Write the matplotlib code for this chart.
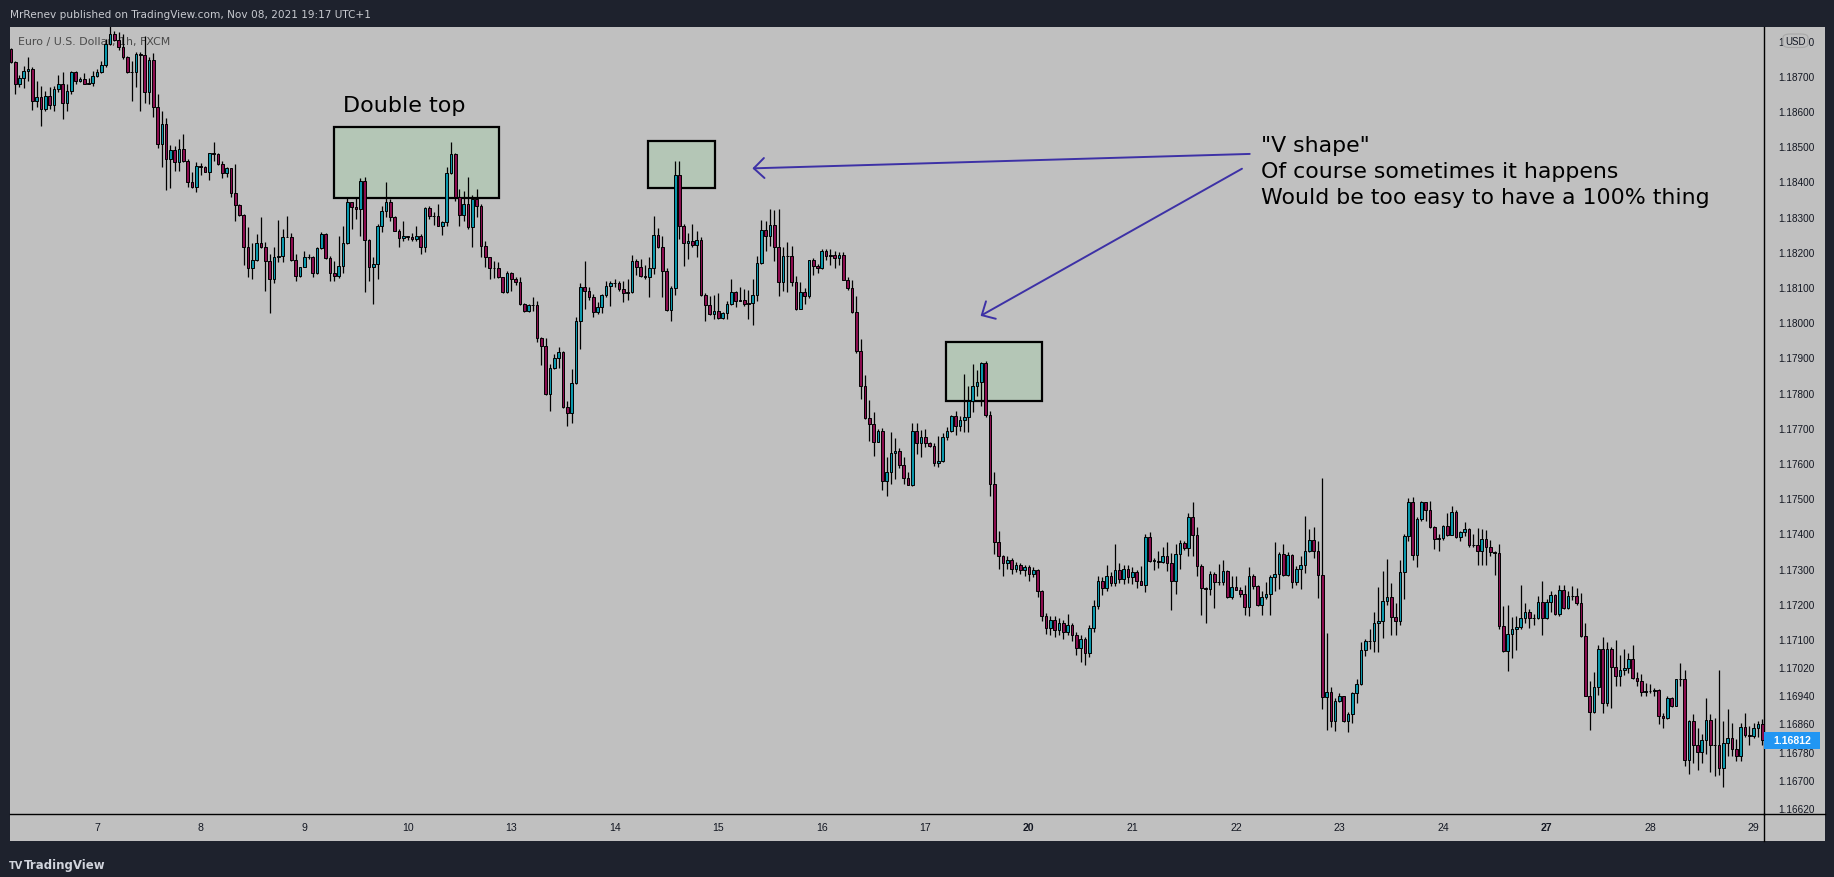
import numpy as np
import pandas as pd
import matplotlib
matplotlib.use('Agg')
from matplotlib import pyplot as plt
from matplotlib.patches import Rectangle, FancyBboxPatch
from matplotlib.lines import Line2D

W, H = 1834, 878

# EUR/USD 1h FXCM, prices kept as pips above 1.16000
base = 1.16
first_open = 277.6
closes = [
    273.8, 267.8, 269.4, 271.3, 271.9, 262.7, 263.9, 260.6, 264.3, 261.6,
    266.2, 267.6, 262.2, 265.6, 271.0, 268.4, 269.1, 267.8, 268.0, 270.0,
    271.0, 273.1, 279.0, 282.0, 280.2, 278.3, 275.2, 271.0, 271.0, 276.2,
    275.9, 265.5, 274.5, 261.2, 250.6, 256.3, 246.3, 248.9, 245.4, 249.1,
    245.7, 239.7, 238.3, 244.5, 244.0, 242.7, 248.0, 247.8, 244.9, 242.3,
    243.7, 236.6, 233.4, 230.5, 221.5, 215.3, 217.7, 222.4, 221.3, 217.3,
    212.2, 218.4, 218.8, 224.1, 224.3, 217.7, 213.1, 215.6, 218.4, 218.6,
    214.1, 221.1, 225.0, 218.1, 214.1, 213.1, 215.9, 222.5, 234.1, 232.6,
    232.1, 240.0, 223.4, 215.6, 216.5, 227.3, 231.5, 234.1, 229.8, 226.0,
    223.8, 224.4, 224.1, 223.5, 224.5, 221.4, 232.4, 230.3, 230.3, 227.4,
    228.6, 242.3, 247.8, 235.6, 230.5, 233.6, 226.9, 235.0, 233.1, 221.7,
    218.6, 215.3, 215.4, 212.7, 208.5, 213.9, 212.3, 211.3, 205.2, 203.1,
    205.0, 205.0, 195.5, 193.3, 179.6, 186.9, 189.7, 191.4, 175.8, 174.1,
    182.6, 200.2, 209.9, 209.0, 207.2, 202.8, 204.2, 207.6, 210.2, 211.0,
    211.0, 209.4, 208.4, 208.5, 217.3, 215.8, 213.2, 212.9, 215.3, 224.8,
    221.3, 214.6, 203.4, 209.6, 241.8, 227.4, 222.4, 223.0, 222.0, 223.3,
    207.8, 205.0, 202.3, 203.1, 201.1, 202.7, 205.3, 208.6, 206.1, 206.3,
    205.3, 205.5, 207.7, 216.8, 226.2, 224.6, 227.6, 221.5, 211.5, 218.7,
    218.9, 211.5, 203.7, 208.5, 207.5, 217.6, 215.9, 215.3, 220.1, 218.9,
    219.1, 218.3, 219.1, 212.1, 209.8, 202.8, 191.9, 181.8, 172.7, 171.0,
    166.1, 169.0, 155.0, 157.3, 162.8, 163.3, 159.5, 155.6, 153.8, 169.0,
    165.6, 167.3, 165.6, 164.9, 159.9, 160.5, 167.3, 169.0, 173.4, 170.4,
    172.3, 173.0, 177.5, 182.0, 182.9, 188.4, 173.7, 154.0, 137.6, 133.5,
    131.5, 132.5, 130.0, 131.0, 129.5, 130.5, 128.5, 129.5, 123.5, 116.5,
    113.0, 115.5, 112.5, 114.5, 112.0, 114.0, 111.0, 107.5, 110.0, 106.0,
    113.0, 119.5, 126.5, 124.5, 128.0, 126.0, 129.5, 127.0, 130.0, 127.5,
    129.0, 126.6, 125.4, 139.1, 132.3, 132.3, 132.0, 133.7, 131.5, 126.6,
    134.2, 137.2, 135.8, 144.6, 139.6, 130.6, 124.4, 124.2, 128.5, 126.1,
    126.1, 129.2, 121.8, 124.9, 124.0, 122.7, 119.2, 127.8, 125.0, 119.8,
    121.8, 122.8, 127.6, 128.5, 134.2, 128.3, 133.9, 126.1, 129.9, 131.0,
    134.9, 138.1, 135.1, 128.3, 93.4, 94.9, 86.8, 92.5, 93.7, 86.8,
    88.7, 94.7, 97.1, 106.9, 109.5, 109.4, 114.5, 115.1, 120.9, 121.8,
    116.2, 115.2, 128.9, 139.4, 148.8, 134.0, 144.1, 148.8, 146.7, 141.7,
    138.4, 138.6, 142.0, 139.6, 146.0, 138.9, 140.3, 141.3, 136.8, 136.8,
    135.1, 138.4, 136.0, 134.8, 134.3, 113.6, 106.5, 111.4, 112.8, 113.3,
    115.9, 117.8, 115.9, 116.0, 120.4, 116.0, 120.4, 122.5, 117.1, 124.0,
    118.7, 122.3, 122.3, 120.3, 110.8, 93.9, 89.2, 96.5, 107.3, 91.7,
    107.3, 102.0, 99.6, 101.3, 101.8, 104.3, 98.8, 98.2, 95.0, 95.1,
    95.1, 95.5, 88.2, 87.5, 93.2, 91.1, 98.6, 98.6, 75.7, 86.8,
    80.0, 78.0, 81.3, 87.0, 80.0, 80.0, 73.3, 80.5, 81.8, 78.8,
    76.7, 84.9, 82.8, 82.4, 84.6, 85.9, 81.2,
]
highs = [
    278.0, 274.3, 270.3, 272.9, 275.2, 272.4, 268.6, 267.2, 265.8, 266.7,
    267.2, 270.3, 271.0, 267.7, 271.4, 271.4, 269.7, 270.7, 269.5, 271.4,
    271.9, 274.1, 280.4, 284.5, 282.8, 282.3, 281.9, 275.7, 274.3, 276.7,
    276.7, 281.4, 275.2, 276.4, 264.8, 260.1, 257.9, 250.4, 250.1, 252.0,
    253.5, 246.3, 242.6, 245.4, 245.1, 244.5, 248.2, 251.2, 248.2, 245.7,
    244.0, 243.7, 244.9, 233.6, 230.7, 226.9, 222.4, 225.0, 230.0, 222.7,
    219.4, 221.4, 229.0, 226.5, 230.1, 225.2, 219.4, 215.8, 220.1, 219.4,
    218.9, 221.4, 225.5, 225.2, 218.7, 217.3, 224.6, 227.4, 235.5, 234.2,
    235.6, 240.9, 241.3, 223.6, 218.4, 227.9, 232.9, 239.7, 235.0, 230.3,
    226.5, 228.8, 224.6, 225.2, 227.4, 225.0, 232.8, 233.1, 231.2, 233.7,
    228.8, 244.0, 251.1, 248.0, 237.8, 237.4, 241.3, 236.0, 237.8, 233.6,
    223.1, 218.6, 217.3, 217.0, 212.9, 214.6, 214.2, 212.7, 212.9, 205.4,
    205.2, 207.1, 206.1, 195.9, 195.4, 188.1, 191.1, 193.0, 191.9, 177.7,
    186.7, 201.4, 211.0, 217.3, 209.9, 208.0, 205.6, 208.0, 211.6, 211.6,
    212.3, 211.6, 211.8, 212.3, 219.1, 217.9, 217.9, 216.3, 218.4, 230.3,
    226.7, 224.4, 215.4, 210.4, 245.9, 245.9, 227.9, 225.2, 227.9, 226.0,
    224.3, 208.2, 207.5, 207.8, 208.2, 202.8, 205.9, 212.3, 209.0, 209.9,
    209.4, 209.1, 212.3, 218.9, 229.0, 228.8, 232.2, 232.0, 232.2, 221.3,
    222.7, 221.7, 213.0, 211.3, 209.6, 217.6, 218.1, 216.5, 220.8, 220.8,
    220.8, 220.3, 219.8, 219.8, 212.7, 212.0, 207.3, 195.2, 185.0, 178.0,
    174.4, 169.7, 169.8, 161.6, 168.7, 167.0, 164.4, 161.6, 157.3, 171.4,
    171.5, 169.4, 169.7, 165.9, 165.6, 167.6, 168.5, 170.1, 173.6, 174.9,
    173.4, 185.3, 182.0, 188.1, 186.5, 188.6, 189.0, 174.9, 157.5, 140.8,
    134.0, 133.5, 133.0, 132.0, 131.5, 131.0, 131.0, 130.5, 130.0, 124.0,
    117.5, 116.5, 116.5, 116.0, 115.5, 117.0, 114.5, 112.0, 111.0, 110.5,
    114.0, 121.0, 128.0, 127.5, 131.0, 129.0, 137.0, 131.5, 131.0, 131.0,
    130.5, 129.5, 130.8, 139.8, 140.3, 132.9, 135.1, 136.0, 137.5, 134.3,
    137.0, 138.2, 137.9, 145.8, 148.8, 141.7, 131.3, 124.7, 129.4, 129.1,
    131.3, 132.4, 129.7, 127.8, 128.0, 124.7, 125.2, 130.4, 128.5, 125.2,
    123.7, 126.1, 128.2, 137.5, 134.6, 137.0, 134.6, 134.1, 130.8, 133.7,
    144.8, 141.3, 141.7, 137.9, 155.6, 111.6, 96.3, 93.1, 94.6, 93.9,
    89.4, 94.9, 98.6, 109.2, 110.0, 112.8, 117.6, 124.7, 129.4, 132.7,
    125.9, 120.2, 132.5, 139.8, 150.1, 150.2, 144.6, 149.3, 149.0, 149.2,
    142.2, 139.7, 142.4, 145.7, 147.7, 146.6, 140.8, 143.1, 141.5, 139.8,
    141.4, 141.3, 141.1, 138.2, 135.1, 137.0, 119.5, 119.7, 116.2, 116.6,
    125.4, 120.2, 118.5, 117.1, 122.1, 126.6, 121.4, 123.7, 122.8, 125.4,
    125.4, 123.7, 125.0, 124.4, 123.1, 114.5, 98.2, 100.5, 108.3, 110.5,
    109.2, 107.6, 109.7, 105.5, 107.3, 105.9, 108.3, 100.5, 100.0, 97.4,
    97.1, 96.2, 95.8, 89.0, 93.9, 93.6, 98.6, 103.2, 101.2, 87.0,
    88.7, 84.7, 83.0, 93.2, 88.7, 87.5, 101.2, 86.8, 90.1, 86.1,
    81.6, 86.1, 89.0, 85.2, 86.1, 86.8, 87.3,
]
lows = [
    273.5, 264.8, 266.9, 266.4, 268.6, 260.3, 261.0, 255.8, 259.9, 260.7,
    260.1, 265.3, 257.7, 260.1, 264.8, 267.8, 268.1, 267.7, 267.7, 267.1,
    269.7, 270.8, 272.6, 278.8, 280.0, 277.3, 274.8, 270.7, 262.9, 266.7,
    259.9, 262.4, 262.0, 258.2, 249.5, 244.0, 237.6, 238.0, 243.0, 243.0,
    245.4, 238.5, 238.1, 236.9, 241.9, 242.6, 240.5, 245.9, 244.7, 240.9,
    241.3, 235.5, 228.8, 230.2, 216.3, 212.7, 212.3, 217.5, 221.1, 208.9,
    202.5, 211.2, 217.0, 217.0, 224.1, 217.3, 211.6, 212.7, 215.6, 218.0,
    212.7, 213.7, 220.8, 217.9, 211.6, 211.8, 212.5, 213.9, 222.2, 226.5,
    229.3, 224.6, 208.5, 211.8, 205.3, 212.3, 225.5, 229.8, 228.8, 225.8,
    221.4, 223.0, 223.3, 223.1, 223.1, 219.4, 219.8, 229.3, 227.7, 227.4,
    224.9, 227.4, 242.1, 234.5, 227.4, 228.8, 226.5, 221.4, 229.8, 218.6,
    215.6, 212.3, 212.5, 212.5, 208.2, 208.2, 208.9, 210.6, 205.0, 202.8,
    202.8, 203.3, 194.3, 187.9, 179.4, 174.9, 186.7, 187.0, 175.6, 170.6,
    171.5, 182.4, 192.4, 203.7, 206.3, 201.6, 202.3, 202.5, 207.2, 204.7,
    209.9, 209.0, 205.8, 206.3, 208.2, 213.5, 212.9, 212.3, 207.1, 213.7,
    221.0, 207.2, 203.3, 200.4, 207.8, 223.6, 216.0, 218.0, 221.3, 218.6,
    207.5, 200.4, 202.1, 200.9, 200.9, 200.9, 200.9, 204.9, 204.2, 205.9,
    204.7, 200.9, 199.3, 205.9, 216.5, 220.1, 221.7, 217.5, 207.5, 209.0,
    208.5, 210.2, 203.5, 203.7, 205.2, 206.8, 213.4, 214.0, 215.1, 217.8,
    216.2, 215.5, 216.2, 212.1, 209.2, 202.6, 191.2, 178.2, 172.5, 166.3,
    162.1, 165.9, 152.4, 150.7, 154.0, 155.5, 158.6, 154.0, 153.8, 153.6,
    162.5, 161.6, 164.5, 164.6, 159.2, 159.0, 160.2, 166.6, 168.7, 168.0,
    169.2, 168.7, 168.7, 174.4, 178.9, 176.1, 173.0, 150.7, 134.1, 129.9,
    128.0, 130.0, 128.5, 129.0, 128.5, 128.0, 126.5, 127.5, 122.0, 115.0,
    111.5, 111.0, 110.5, 111.0, 110.0, 111.0, 109.5, 105.5, 103.5, 102.5,
    105.0, 112.0, 118.5, 122.5, 123.5, 125.0, 125.0, 126.0, 125.5, 126.0,
    125.5, 124.5, 125.2, 123.4, 132.0, 129.7, 130.1, 131.6, 129.4, 118.3,
    122.8, 129.9, 135.4, 133.5, 133.7, 128.0, 116.9, 114.5, 122.5, 118.9,
    125.3, 125.2, 121.6, 121.5, 123.9, 121.8, 116.9, 116.6, 124.2, 119.3,
    116.9, 121.5, 116.9, 123.7, 124.2, 128.0, 128.0, 124.5, 125.2, 124.2,
    128.8, 134.6, 132.9, 121.6, 90.1, 84.2, 84.9, 84.0, 92.0, 86.5,
    83.5, 86.1, 91.8, 96.9, 105.3, 107.3, 106.4, 106.2, 110.2, 119.8,
    111.1, 111.1, 114.1, 121.4, 137.9, 132.5, 130.5, 143.4, 143.6, 141.4,
    135.6, 135.1, 138.2, 139.4, 139.5, 138.7, 137.9, 139.4, 136.0, 136.0,
    131.1, 131.1, 131.1, 133.7, 128.3, 112.7, 106.2, 100.8, 104.5, 107.0,
    112.8, 114.5, 113.1, 114.1, 115.7, 111.0, 115.7, 117.8, 116.8, 116.6,
    118.5, 118.5, 121.2, 119.7, 110.5, 93.7, 84.2, 89.0, 94.1, 89.0,
    91.1, 90.4, 96.7, 96.7, 99.8, 100.3, 98.6, 96.7, 93.9, 93.9,
    94.7, 93.9, 85.9, 84.7, 87.3, 90.6, 90.9, 96.7, 74.0, 71.6,
    74.8, 72.8, 74.8, 77.3, 72.3, 71.2, 71.4, 67.9, 76.9, 76.9,
    75.2, 75.4, 82.3, 80.0, 81.9, 82.3, 80.0,
]
price_ticks = [1.188, 1.187, 1.186, 1.185, 1.184, 1.183, 1.182, 1.181, 1.180,
               1.179, 1.178, 1.177, 1.176, 1.175, 1.174, 1.173, 1.172, 1.171,
               1.1702, 1.1694, 1.1686, 1.1678, 1.167, 1.1662]
last_price = 1.16812

n = len(closes)
opens = [first_open] + closes[:-1]
o = base + np.array(opens) / 10000
c = base + np.array(closes) / 10000
hi = base + np.array(highs) / 10000
lo = base + np.array(lows) / 10000

# hourly bars, fx market shut from friday 22:00 to sunday 22:00 (UTC+1)
hours = pd.date_range('2021-09-06 04:00', '2021-09-30 00:00', freq='h')
shut = (((hours.dayofweek == 4) & (hours.hour >= 22)) | (hours.dayofweek == 5)
        | ((hours.dayofweek == 6) & (hours.hour < 22)))
hours = hours[~shut][:n]
day_pos = [i for i, t in enumerate(hours) if t.hour == 0]
day_lab = [str(hours[i].day) for i in day_pos]

teal = '#0a97ab'
magenta = '#8a0c4e'
grey = '#c0c0c0'
dark = '#1e222d'
ink = '#131722'
pen = '#3d31a6'

def fx(px):
    return px / W

def fy(py):
    return 1 - py / H

fig = plt.figure(figsize=(W / 100, H / 100), dpi=100, facecolor=dark)
fig.patches.append(Rectangle((fx(10), fy(842)), fx(1825) - fx(10), fy(27.5) - fy(842),
                             transform=fig.transFigure, facecolor=grey, edgecolor='none', zorder=-10))

ax = fig.add_axes([fx(10), fy(815.3), fx(1763.5) - fx(10), fy(27.5) - fy(815.3)])
ax.set_facecolor('none')
ax.set_xlim(-0.2, 406.3)
ax.set_ylim(1.16602, 1.18840)

# candles
xs = np.arange(n)
up = c >= o
ax.vlines(xs, lo, hi, color='black', linewidth=0.9, zorder=3)
ax.bar(xs, np.maximum(np.abs(c - o), 1e-7), bottom=np.minimum(o, c), width=0.62,
       color=np.where(up, teal, magenta), edgecolor='black', linewidth=0.7, zorder=4)

# drawings
def pp(p):
    return base + p / 10000

for x0, x1, p0, p1 in [(74.8, 113.2, 235.3, 255.5), (147.8, 163.3, 238.1, 251.6),
                       (216.9, 239.1, 177.5, 194.5)]:
    ax.add_patch(Rectangle((x0, pp(p0)), x1 - x0, pp(p1) - pp(p0), facecolor='#b4c6b6',
                           edgecolor='black', linewidth=1.6, zorder=2))

for tail, tip in [((287.2, 247.8), (171.9, 243.7)), ((285.4, 243.6), (224.8, 201.8))]:
    ax.annotate('', xy=(tip[0], pp(tip[1])), xytext=(tail[0], pp(tail[1])),
                arrowprops=dict(arrowstyle='->,head_length=0.75,head_width=0.72', color=pen,
                                lw=1.4, shrinkA=0, shrinkB=0), zorder=5)

ax.text(77.1, pp(259.9), 'Double top', fontsize=16, color='black', va='baseline', zorder=6)
for line, p in [('"V shape"', 248.6), ('Of course sometimes it happens', 241.3),
                ('Would be too easy to have a 100% thing', 234.0)]:
    ax.text(289.8, pp(p), line, fontsize=15.8, color='black', va='baseline', zorder=6)

ax.text(fx(18), fy(42), 'Euro / U.S. Dollar, 1h, FXCM', transform=fig.transFigure,
        fontsize=7.9, color='#4a4a4a', va='center', zorder=1)
fig.text(fx(10), fy(14.5), 'MrRenev published on TradingView.com, Nov 08, 2021 19:17 UTC+1',
         fontsize=7.6, color='#c8cad0', va='center')
fig.text(fx(24), fy(866), 'TradingView', fontsize=8.5, color='#d1d4dc', va='center', weight='bold')
fig.text(fx(9), fy(866), 'TV', fontsize=7, color='#d1d4dc', va='center', weight='bold')

# axes
ax.yaxis.tick_right()
ax.set_yticks(price_ticks)
ax.set_yticklabels(['%.5f' % p for p in price_ticks], fontfamily='Liberation Sans', fontsize=7.2)
ax.set_xticks(day_pos)
ax.set_xticklabels(day_lab, fontfamily='Liberation Sans', fontsize=7.6)
for lab, i in zip(ax.get_xticklabels(), day_pos):
    if hours[i].dayofweek == 0 and hours[i].day != 13:
        lab.set_fontweight('bold')
ax.tick_params(axis='both', length=0, labelcolor=ink)
ax.tick_params(axis='y', pad=10.5)
ax.tick_params(axis='x', pad=5.5)
for side in ['top', 'left']:
    ax.spines[side].set_visible(False)
for side in ['right', 'bottom']:
    ax.spines[side].set_color('black')
    ax.spines[side].set_linewidth(1.0)
fig.lines.append(Line2D([fx(1763.5), fx(1763.5)], [fy(815.3), fy(842)], transform=fig.transFigure,
                        color='black', linewidth=1.0))
fig.lines.append(Line2D([fx(1763.5), fx(1825)], [fy(815.3), fy(815.3)], transform=fig.transFigure,
                        color='black', linewidth=1.0))

# currency badge over the top label and last price tag
fig.patches.append(FancyBboxPatch((fx(1783), fy(48.5)), fx(1808) - fx(1783), fy(35) - fy(48.5),
                                  boxstyle='round,pad=0,rounding_size=0.004', transform=fig.transFigure,
                                  facecolor=grey, edgecolor='#a8a8a8', linewidth=0.8, zorder=5))
fig.text(fx(1795.5), fy(41.8), 'USD', fontsize=7, fontfamily='Liberation Sans', color=ink,
         ha='center', va='center', zorder=6)
fig.patches.append(Rectangle((fx(1764), fy(750)), fx(1820) - fx(1764), fy(733) - fy(750),
                             transform=fig.transFigure, facecolor='#2196f3', edgecolor='none', zorder=5))
fig.text(fx(1792), fy(741.5), '%.5f' % last_price, fontsize=7.6, fontfamily='Liberation Sans',
         color='white', weight='bold', ha='center', va='center', zorder=6)

fig.savefig('out.png', dpi=100, facecolor=dark)
